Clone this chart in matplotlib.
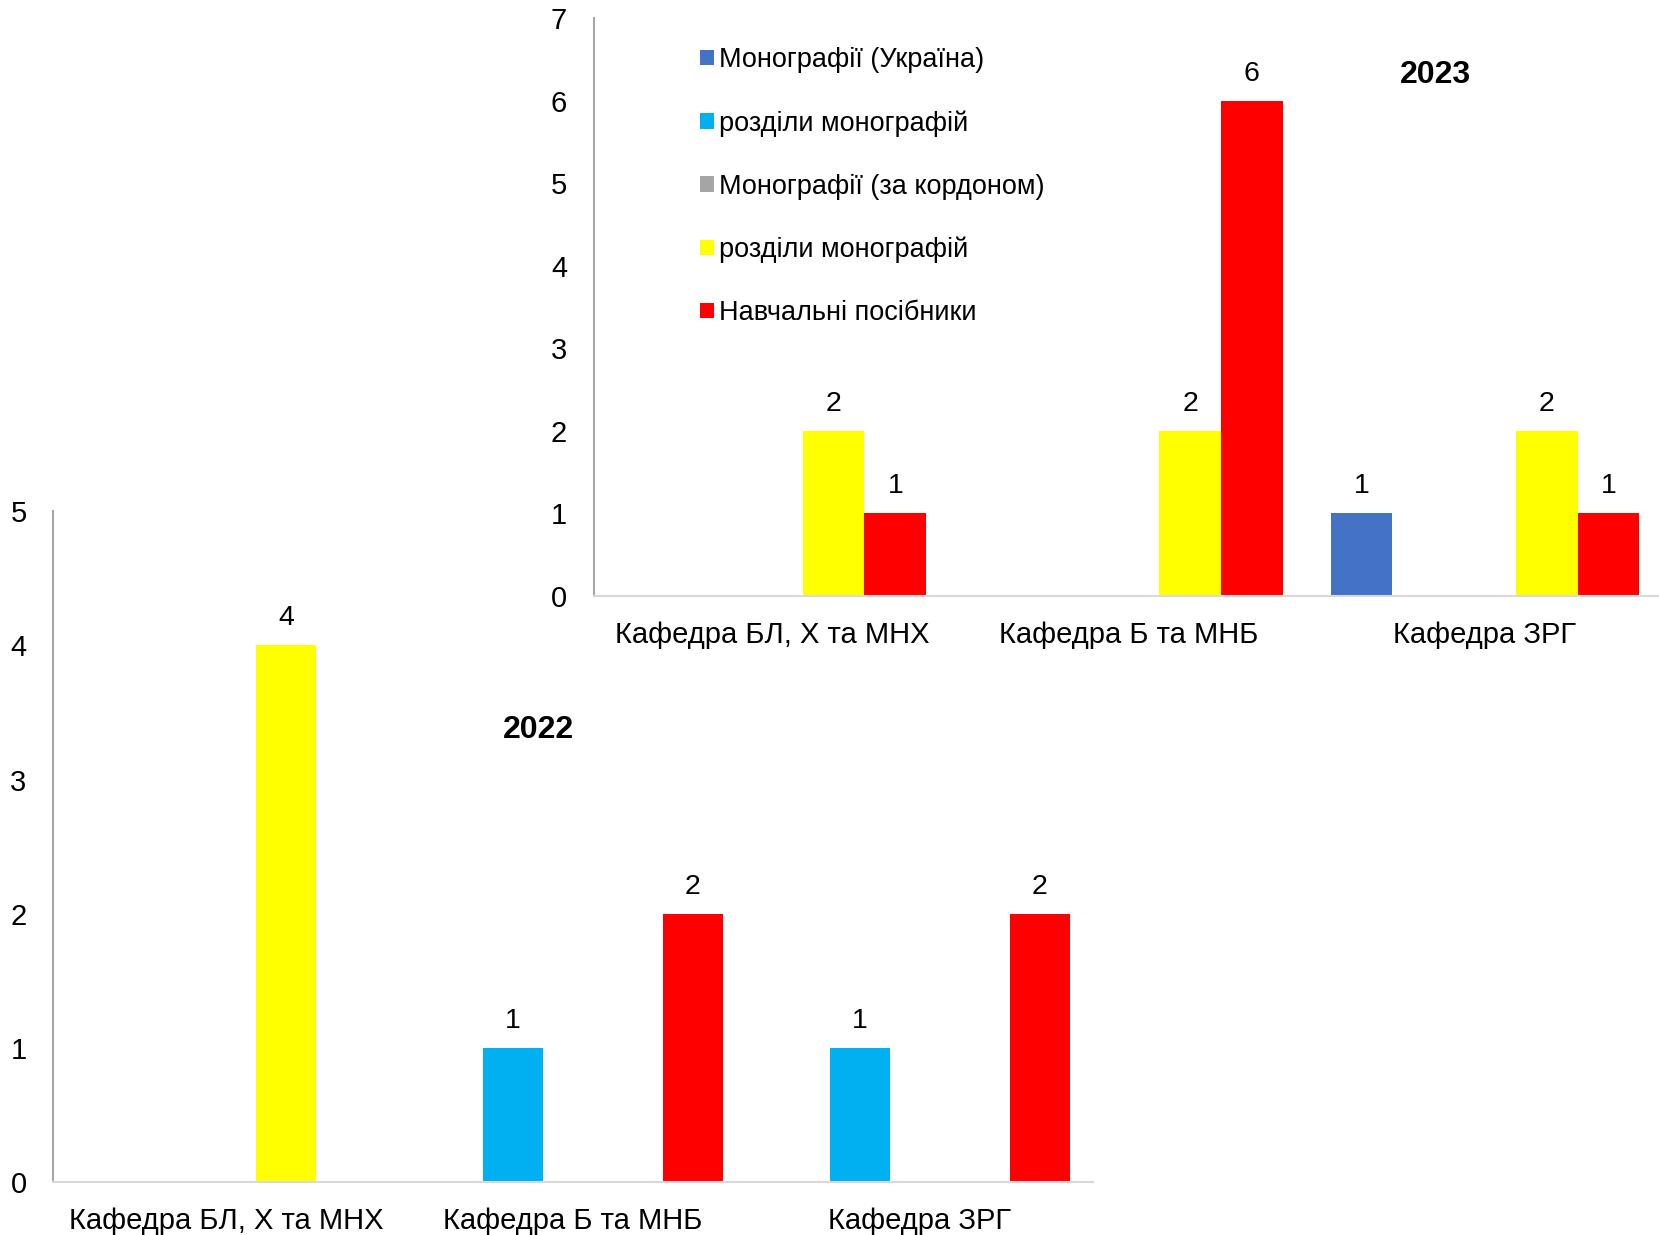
import numpy as np
import matplotlib
matplotlib.use("Agg")
import matplotlib.pyplot as plt

plt.rcParams['font.family'] = ['Liberation Sans', 'DejaVu Sans']

# categories and series
categories = ['Кафедра БЛ, Х та МНХ', 'Кафедра Б та МНБ', 'Кафедра ЗРГ']
series_names = ['Монографії (Україна)', 'розділи монографій',
                'Монографії (за кордоном)', 'розділи монографій',
                'Навчальні посібники']
series_colors = ['#4472C4', '#00B0F0', '#A5A5A5', '#FFFF00', '#FF0000']

# values per series (same order as series_names)
values_2022 = [
    [0, 0, 0],
    [0, 1, 1],
    [0, 0, 0],
    [4, 0, 0],
    [0, 2, 2],
]
values_2023 = [
    [0, 0, 1],
    [0, 0, 0],
    [0, 0, 0],
    [2, 2, 2],
    [1, 6, 1],
]

FS = 21
bar_w = 0.173


def draw_chart(ax, values, ymax):
    x = np.arange(len(categories))
    n = len(values)
    handles = []
    for i, vals in enumerate(values):
        off = (i - (n - 1) / 2) * bar_w
        bars = ax.bar(x + off, vals, bar_w, color=series_colors[i],
                      label=series_names[i], zorder=2)
        labels = [str(v) if v else '' for v in vals]
        ax.bar_label(bars, labels=labels, padding=10, fontsize=FS - 0.5)
        handles.append(bars)
    ax.set_xlim(-0.5, len(categories) - 0.5)
    ax.set_ylim(0, ymax)
    ax.set_yticks(range(ymax + 1))
    ax.set_xticks(x)
    ax.set_xticklabels(categories)
    ax.tick_params(axis='both', length=0, labelsize=FS)
    ax.tick_params(axis='y', pad=19)
    ax.tick_params(axis='x', pad=18)
    ax.spines['top'].set_visible(False)
    ax.spines['right'].set_visible(False)
    ax.spines['left'].set_color('#A6A6A6')
    ax.spines['left'].set_linewidth(1.5)
    ax.spines['bottom'].set_color('#D9D9D9')
    ax.spines['bottom'].set_linewidth(1.5)
    ax.set_facecolor('none')
    return handles


fig = plt.figure(figsize=(16.59, 12.35), dpi=100)
fig.patch.set_facecolor('white')

# 2022 chart (lower left)
ax1 = fig.add_axes([0.0319, 0.0428, 0.6270, 0.5433])
draw_chart(ax1, values_2022, 5)
fig.text(0.3246, 0.4087, '2022', fontsize=23, fontweight='bold',
         ha='center', va='center')

# 2023 chart (upper right)
ax2 = fig.add_axes([0.3578, 0.5176, 0.6448, 0.4678])
handles = draw_chart(ax2, values_2023, 7)
fig.text(0.8654, 0.939, '2023', fontsize=23, fontweight='bold',
         ha='center', va='center')

ax2.legend(handles, series_names, loc='upper left',
           bbox_to_anchor=(0.422, 0.962), bbox_transform=fig.transFigure,
           frameon=False, fontsize=19.5, borderpad=0, borderaxespad=0,
           handlelength=0.5, handleheight=0.5, handletextpad=0.2,
           labelspacing=1.37)

fig.savefig('out.png', dpi=100)
